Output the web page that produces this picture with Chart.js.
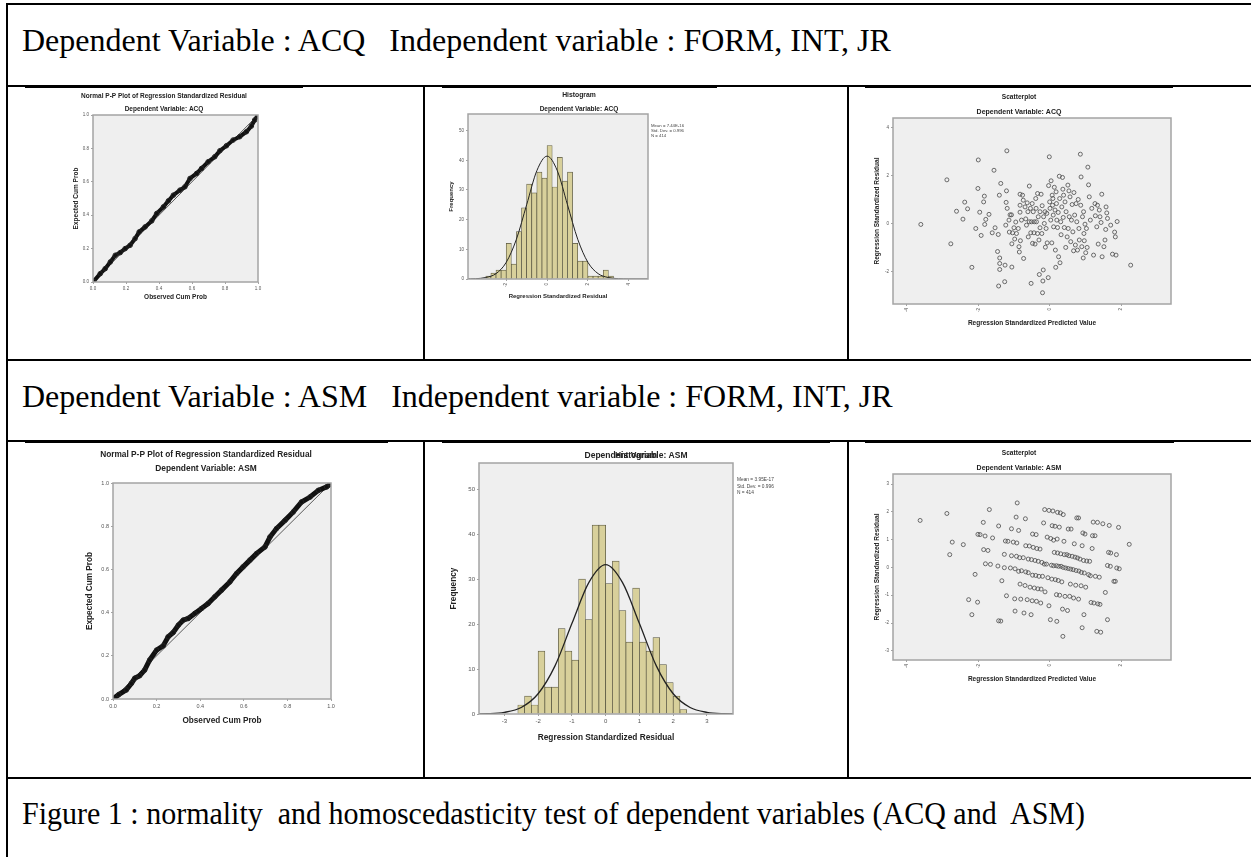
<!DOCTYPE html>
<html>
<head>
<meta charset="utf-8">
<script src="https://cdn.jsdelivr.net/npm/chart.js@4.4.0/dist/chart.umd.min.js"></script>
<style>
  body { margin: 0; background: #fff; width: 1251px; height: 857px; position: relative; overflow: hidden; }
  .rule { position: absolute; background: #000; z-index: 5; }
  .hdr { position: absolute; font-family: "Liberation Serif", "Times New Roman", serif; font-size: 32px; line-height: 32px; white-space: pre; color: #000; }
  canvas { position: absolute; }
</style>
</head>
<body>

<div class="rule" style="left:6px;top:3px;width:2px;height:854px"></div>
<div class="rule" style="left:6px;top:3px;width:1245px;height:2px"></div>
<div class="rule" style="left:6px;top:85px;width:1245px;height:2px"></div>
<div class="rule" style="left:6px;top:359px;width:1245px;height:2px"></div>
<div class="rule" style="left:6px;top:440px;width:1245px;height:2px"></div>
<div class="rule" style="left:6px;top:777px;width:1245px;height:2px"></div>
<div class="rule" style="left:423px;top:85px;width:2px;height:276px"></div>
<div class="rule" style="left:847px;top:85px;width:2px;height:276px"></div>
<div class="rule" style="left:423px;top:440px;width:2px;height:339px"></div>
<div class="rule" style="left:847px;top:440px;width:2px;height:339px"></div>
<!-- top edges of the pasted chart pictures, just under the row rules -->
<div class="rule" style="left:25px;top:86px;width:278px;height:2px"></div>
<div class="rule" style="left:442px;top:86px;width:275px;height:2px"></div>
<div class="rule" style="left:865px;top:86px;width:308px;height:2px"></div>
<div class="rule" style="left:25px;top:441px;width:363px;height:2px"></div>
<div class="rule" style="left:442px;top:441px;width:388px;height:2px"></div>
<div class="rule" style="left:865px;top:441px;width:309px;height:2px"></div>

<div class="hdr" style="left:22px;top:24px">Dependent Variable : ACQ   Independent variable : FORM, INT, JR</div>
<div class="hdr" style="left:22px;top:380px">Dependent Variable : ASM   Independent variable : FORM, INT, JR</div>
<div class="hdr" id="caption" style="left:22px;top:797px;transform-origin:0 0">Figure 1 : normality  and homoscedasticity test of dependent variables (ACQ and  ASM)</div>

<canvas id="ppAcq"></canvas>
<canvas id="histAcq"></canvas>
<canvas id="scatAcq"></canvas>
<canvas id="ppAsm"></canvas>
<canvas id="histAsm"></canvas>
<canvas id="scatAsm"></canvas>

<script>
// ---- data ----

// P-P plots: observed vs expected cumulative probability
const ppAcqObs = [0.004,0.044,0.074,0.105,0.135,0.165,0.195,0.225,0.255,0.28,0.316,0.356,0.386,0.427,0.457,0.487,0.527,0.557,0.588,0.628,0.658,0.698,0.738,0.769,0.809,0.849,0.889,0.93,0.96,0.98,1.0]
const ppAcqExp = [0.004,0.05,0.08,0.12,0.16,0.176,0.2,0.22,0.26,0.30,0.33,0.366,0.41,0.45,0.486,0.52,0.55,0.57,0.62,0.65,0.68,0.72,0.75,0.786,0.816,0.85,0.87,0.90,0.934,0.97,1.0]
const ppAsmObs = [0,0.026,0.061,0.084,0.1,0.122,0.145,0.168,0.2,0.23,0.253,0.276,0.3,0.322,0.345,0.375,0.406,0.436,0.467,0.498,0.536,0.567,0.597,0.628,0.658,0.697,0.72,0.75,0.789,0.827,0.865,0.904,0.942,0.98,1.0]
const ppAsmExp = [0,0.02,0.042,0.072,0.096,0.108,0.134,0.18,0.226,0.246,0.288,0.308,0.342,0.365,0.373,0.396,0.419,0.442,0.473,0.504,0.542,0.581,0.612,0.643,0.673,0.704,0.75,0.789,0.827,0.866,0.912,0.935,0.966,0.982,0.997]
const ppDiagonal = [0, 1]
const ppTicks = [0, 0.2, 0.4, 0.6, 0.8, 1.0]

// histograms
const acqBinCenters = [-2.875,-2.625,-2.375,-2.125,-1.875,-1.625,-1.375,-1.125,-0.875,-0.625,-0.375,-0.125,0.125,0.375,0.625,0.875,1.125,1.375,1.625,1.875,2.125,2.375,2.625,2.875,3.125]
const acqCounts = [1,2,3,3,12,5,16,24,32,29,36,34,45,31,41,33,36,12,6,6,1,1,1,3,1]
const acqCurveX = [-4,-3.5,-3,-2.5,-2,-1.5,-1,-0.5,0,0.5,1,1.5,2,2.5,3,3.5,4,4.5,5]
const acqCurveY = [0.01,0.1,0.5,1.8,5.6,13.4,25,36.5,41.4,36.5,25,13.4,5.6,1.8,0.5,0.1,0.01,0,0]
const acqStats = ['Mean = 7.44E-16', 'Std. Dev. = 0.996', 'N = 414']

const asmBinCenters = [-2.5,-2.3,-2.1,-1.9,-1.7,-1.5,-1.3,-1.1,-0.9,-0.7,-0.5,-0.3,-0.1,0.1,0.3,0.5,0.7,0.9,1.1,1.3,1.5,1.7,1.9,2.1,2.3]
const asmCounts = [2,4,2,14,6,6,19,14,12,30,21,42,42,29,34,23,16,28,16,14,17,11,7,4,1]
const asmCurveX = [-4,-3.5,-3,-2.5,-2,-1.5,-1,-0.5,0,0.5,1,1.5,2,2.5,3,3.5,4]
const asmCurveY = [0.01,0.07,0.37,1.45,4.5,10.7,20.1,29.2,33.2,29.2,20.1,10.7,4.5,1.45,0.37,0.07,0.01]
const asmStats = ['Mean = 3.95E-17', 'Std. Dev. = 0.996', 'N = 414']

// scatterplots: [standardized predicted, standardized residual]
const acqScatter = [
  [-3.61,-0.04],[-2.88,1.82],[-2.77,-0.85],[-2.61,0.51],[-2.43,0.18],[-2.38,0.89],[-2.30,0.61],[-2.18,-1.83],
  [-2.07,-0.21],[-2.01,1.46],[-2.00,2.65],[-1.96,0.47],[-1.92,-0.50],[-1.85,0.90],[-1.83,1.14],[-1.82,-0.04],
  [-1.79,0.17],[-1.70,0.38],[-1.61,-0.39],[-1.56,2.22],[-1.53,-0.18],[-1.46,-1.17],[-1.44,-0.46],[-1.43,-2.61],
  [-1.41,1.18],[-1.40,-1.44],[-1.40,-1.67],[-1.40,-1.92],[-1.37,1.67],[-1.26,-2.43],[-1.25,-1.74],[-1.23,-0.07],
  [-1.22,0.88],[-1.21,1.36],[-1.20,3.03],[-1.19,0.63],[-1.14,0.14],[-1.13,-0.36],[-1.11,0.36],[-1.07,0.36],
  [-1.06,-0.85],[-1.06,-1.82],[-1.04,-0.39],[-1.00,-0.18],[-0.98,-0.65],[-0.95,0.06],[-0.93,-0.42],[-0.88,-0.21],
  [-0.86,-0.97],[-0.85,-1.19],[-0.83,1.22],[-0.83,0.76],[-0.83,0.47],[-0.82,-0.72],[-0.79,0.14],[-0.76,1.18],
  [-0.74,0.97],[-0.73,-1.46],[-0.69,0.69],[-0.67,0.19],[-0.65,-0.07],[-0.63,0.86],[-0.61,0.49],[-0.60,-0.56],
  [-0.57,1.56],[-0.57,0.07],[-0.54,0.63],[-0.53,-0.39],[-0.52,-2.50],[-0.51,0.07],[-0.49,0.83],[-0.48,-0.83],
  [-0.46,0.49],[-0.44,-0.39],[-0.43,0.07],[-0.41,-0.86],[-0.39,1.04],[-0.38,0.63],[-0.37,0.07],[-0.34,1.25],
  [-0.34,-0.42],[-0.32,0.28],[-0.30,-0.69],[-0.29,-2.13],[-0.27,0.49],[-0.27,-0.18],[-0.24,1.22],[-0.22,-0.42],
  [-0.21,0.74],[-0.20,-2.89],[-0.19,-2.40],[-0.18,-1.94],[-0.17,0.28],[-0.15,0.00],[-0.13,0.49],[-0.12,-0.99],
  [-0.10,-0.21],[-0.08,0.42],[-0.07,-0.81],[-0.04,-2.26],[-0.03,1.58],[-0.01,2.78],[0.00,0.90],[0.01,0.63],
  [0.03,0.14],[0.04,1.78],[0.06,-0.81],[0.07,1.18],[0.08,0.76],[0.09,1.04],[0.10,0.35],[0.11,-0.14],
  [0.13,1.51],[0.15,0.56],[0.16,-1.11],[0.17,-1.83],[0.18,1.32],[0.19,0.83],[0.20,0.14],[0.22,-0.17],
  [0.24,0.46],[0.25,-1.39],[0.27,1.97],[0.28,1.04],[0.29,-1.64],[0.31,0.07],[0.32,-0.47],[0.34,0.69],
  [0.36,1.92],[0.37,1.43],[0.38,0.25],[0.39,1.18],[0.41,-0.17],[0.43,0.90],[0.45,-1.00],[0.46,0.49],
  [0.49,-0.56],[0.51,1.60],[0.52,-0.21],[0.54,1.36],[0.55,0.28],[0.57,1.11],[0.59,-0.76],[0.61,0.14],
  [0.63,0.79],[0.65,-0.35],[0.67,-1.14],[0.68,1.29],[0.70,0.35],[0.72,-0.90],[0.74,0.83],[0.76,0.07],
  [0.78,-1.11],[0.80,1.00],[0.82,-0.21],[0.83,-0.69],[0.86,2.89],[0.87,0.76],[0.88,1.94],[0.90,-0.97],
  [0.92,0.28],[0.94,-1.44],[0.95,0.49],[0.96,-0.42],[0.97,-0.72],[0.99,-0.03],[1.01,-1.22],[1.03,-0.21],
  [1.05,-1.00],[1.07,2.35],[1.09,1.61],[1.11,1.11],[1.14,0.14],[1.18,0.63],[1.23,-1.32],[1.27,0.83],
  [1.28,0.32],[1.32,-0.14],[1.34,0.76],[1.36,-0.86],[1.39,0.56],[1.41,0.28],[1.44,0.04],[1.46,1.22],
  [1.47,-1.39],[1.52,-0.97],[1.55,-0.69],[1.57,-0.25],[1.58,0.69],[1.60,0.44],[1.62,0.21],[1.71,-0.07],
  [1.76,-1.28],[1.82,-0.36],[1.84,-0.56],[1.86,-1.32],[1.89,0.08],[2.27,-1.74]
]
const asmScatter = [
  [-3.63,1.69],[-2.88,1.94],[-2.80,0.46],[-2.73,0.91],[-2.42,0.82],[-2.27,-1.16],[-2.18,-1.70],[-2.09,-0.25],
  [-2.02,-1.25],[-2.01,1.19],[-1.95,1.18],[-1.86,1.62],[-1.85,0.64],[-1.81,1.13],[-1.80,0.13],[-1.73,0.61],
  [-1.69,2.08],[-1.66,0.11],[-1.60,1.06],[-1.45,0.05],[-1.43,1.49],[-1.43,-1.92],[-1.37,-1.93],[-1.34,-0.48],
  [-1.27,0.47],[-1.27,-0.01],[-1.24,0.95],[-1.21,-1.02],[-1.17,0.94],[-1.10,-0.02],[-1.07,1.39],[-1.07,0.42],
  [-1.02,0.91],[-0.98,-1.13],[-0.97,-1.57],[-0.97,-0.05],[-0.94,1.81],[-0.93,0.40],[-0.92,0.88],[-0.91,2.32],
  [-0.87,1.33],[-0.87,-0.14],[-0.84,0.35],[-0.83,-0.60],[-0.81,-1.14],[-0.79,-0.12],[-0.74,0.35],[-0.72,-1.64],
  [-0.69,-0.65],[-0.68,1.75],[-0.67,0.78],[-0.67,-0.16],[-0.63,-1.16],[-0.60,0.30],[-0.60,-0.19],[-0.57,0.77],
  [-0.55,-0.71],[-0.52,-1.70],[-0.51,0.28],[-0.49,-1.20],[-0.48,-0.28],[-0.48,1.20],[-0.46,0.72],[-0.43,-0.74],
  [-0.41,0.25],[-0.39,-0.29],[-0.38,1.18],[-0.37,-1.22],[-0.36,0.68],[-0.33,-0.77],[-0.32,0.22],[-0.30,-0.32],
  [-0.27,0.66],[-0.25,-1.28],[-0.24,-0.78],[-0.22,0.18],[-0.20,-0.32],[-0.17,1.60],[-0.15,0.12],[-0.14,2.08],
  [-0.13,-0.88],[-0.09,0.12],[-0.07,1.09],[-0.05,-0.37],[-0.02,-1.38],[-0.02,2.05],[0.02,-1.88],[0.03,1.04],
  [0.05,0.08],[0.06,-0.42],[0.07,1.50],[0.09,2.03],[0.11,0.98],[0.11,0.06],[0.13,0.54],[0.15,1.48],
  [0.16,-0.44],[0.19,0.06],[0.19,-0.98],[0.20,-1.94],[0.21,1.02],[0.22,1.98],[0.22,0.52],[0.24,-0.47],
  [0.25,0.04],[0.27,1.45],[0.28,-1.00],[0.30,1.96],[0.31,0.49],[0.32,0.04],[0.34,-0.52],[0.36,-1.50],
  [0.37,-2.48],[0.38,1.90],[0.38,0.00],[0.40,0.94],[0.41,0.46],[0.43,-1.04],[0.45,-0.02],[0.48,0.46],
  [0.50,-1.55],[0.52,-0.04],[0.52,1.38],[0.54,0.42],[0.56,-1.04],[0.58,-0.60],[0.59,-0.06],[0.60,1.38],
  [0.63,0.40],[0.66,-0.08],[0.67,-1.10],[0.69,0.85],[0.71,0.37],[0.73,-0.64],[0.74,-0.11],[0.76,1.78],
  [0.78,0.34],[0.81,1.78],[0.81,-1.14],[0.82,-0.13],[0.85,0.30],[0.88,-0.66],[0.89,-0.18],[0.91,0.78],
  [0.91,-2.17],[0.93,1.24],[0.95,0.25],[0.96,-1.70],[0.97,-0.20],[0.99,1.20],[1.01,-0.71],[1.04,0.23],
  [1.09,-0.26],[1.12,0.22],[1.14,-0.30],[1.16,-1.26],[1.19,0.68],[1.20,1.14],[1.22,1.63],[1.24,-1.28],
  [1.27,1.14],[1.28,-0.32],[1.32,-2.30],[1.34,1.62],[1.35,-1.31],[1.39,-0.35],[1.41,-1.33],[1.43,-2.33],
  [1.49,1.57],[1.56,-0.90],[1.62,0.07],[1.62,-1.88],[1.65,0.54],[1.67,1.51],[1.70,0.04],[1.71,0.52],
  [1.80,-0.50],[1.84,-0.50],[1.87,0.46],[1.88,-0.02],[1.93,1.44],[1.95,-0.05],[2.23,0.83]
]
const scatXTicks = [-4, -2, 0, 2]
const acqResidTicks = [-2, 0, 2, 4]
const asmResidTicks = [-3, -2, -1, 0, 1, 2, 3]
const acqHistXTicks = [-2, 0, 2, 4]
const asmHistXTicks = [-3, -2, -1, 0, 1, 2, 3]
const freqTicks = [0, 10, 20, 30, 40, 50]


const SANS = '"Liberation Sans", Arial, sans-serif'
Chart.defaults.font.family = SANS

// caption is set a little narrower than the headings
const cap = document.getElementById('caption')
cap.style.transform = 'scaleX(' + (1063 / cap.getBoundingClientRect().width) + ')'


// grey plot panel, frame and the free text (titles, stats)
const spssFrame = {
  id: 'spssFrame',
  beforeDatasetsDraw(chart) {
    const a = chart.chartArea, ctx = chart.ctx
    ctx.save()
    ctx.fillStyle = '#efefef'
    ctx.fillRect(a.left, a.top, a.right - a.left, a.bottom - a.top)
    ctx.restore()
  },
  afterDraw(chart, args, opts) {
    const a = chart.chartArea, ctx = chart.ctx
    ctx.save()
    ctx.strokeStyle = '#a4a4a4'
    ctx.lineWidth = 1.5
    ctx.strokeRect(a.left, a.top, a.right - a.left, a.bottom - a.top)
    ;(opts.texts || []).forEach(t => {
      ctx.font = (t.bold ? 'bold ' : '') + t.size + 'px ' + SANS
      ctx.fillStyle = t.color || '#222'
      ctx.textAlign = t.align || 'center'
      ctx.textBaseline = 'middle'
      ctx.fillText(t.text, t.x - opts.ox, t.y - opts.oy)
    })
    ctx.restore()
  }
}


function axis(min, max, ticks, label, tickSize, titleSize, decimals, rotate) {
  return {
    type: 'linear',
    min: min,
    max: max,
    offset: false,
    afterBuildTicks: s => { s.ticks = ticks.map(v => ({ value: v })) },
    grid: { display: true, drawOnChartArea: false, drawTicks: true, tickLength: 2, color: '#8c8c8c', lineWidth: 0.8, offset: false },
    border: { display: false },
    ticks: {
      font: { size: tickSize },
      color: '#555',
      padding: 2,
      autoSkip: false,
      minRotation: rotate ? 90 : 0,
      maxRotation: rotate ? 90 : 0,
      callback: v => decimals ? v.toFixed(decimals) : String(v)
    },
    title: { display: true, text: label, color: '#222', font: { size: titleSize, weight: 'bold' }, padding: { top: 1, bottom: 1 } }
  }
}


// cell = canvas box on the page, area = plot panel on the page
function drawPanel(id, cell, area, yW, xH, type, datasets, xAxis, yAxis, texts) {
  const cv = document.getElementById(id)
  cv.width = cell.w
  cv.height = cell.h
  cv.style.left = cell.x + 'px'
  cv.style.top = cell.y + 'px'

  xAxis.afterFit = s => { s.height = xH }
  yAxis.afterFit = s => { s.width = yW }

  return new Chart(cv, {
    type: type,
    data: { datasets: datasets },
    options: {
      responsive: false,
      animation: false,
      devicePixelRatio: 1,
      layout: {
        padding: {
          left: area.l - yW - cell.x,
          top: area.t - cell.y,
          right: cell.x + cell.w - area.r,
          bottom: cell.y + cell.h - area.b - xH
        }
      },
      plugins: {
        legend: { display: false },
        tooltip: { enabled: false },
        spssFrame: { texts: texts, ox: cell.x, oy: cell.y }
      },
      scales: { x: xAxis, y: yAxis }
    },
    plugins: [spssFrame]
  })
}


function ppSets(obs, exp, band) {
  return [
    {
      data: obs.map((v, i) => ({ x: v, y: exp[i] })),
      showLine: true,
      borderColor: '#111',
      borderWidth: band,
      pointRadius: 2.3,
      pointBorderWidth: 1,
      pointBorderColor: '#222',
      pointBackgroundColor: 'rgba(0,0,0,0)',
      order: 0
    },
    {
      data: ppDiagonal.map(v => ({ x: v, y: v })),
      showLine: true,
      borderColor: '#333',
      borderWidth: 0.8,
      pointRadius: 0,
      order: 1
    }
  ]
}

function histSets(centers, counts, cx, cy, curveW) {
  return [
    {
      type: 'line',
      data: cx.map((v, i) => ({ x: v, y: cy[i] })),
      borderColor: '#222',
      borderWidth: curveW,
      pointRadius: 0,
      cubicInterpolationMode: 'monotone',
      order: 0
    },
    {
      type: 'bar',
      data: centers.map((v, i) => ({ x: v, y: counts[i] })),
      backgroundColor: '#d8d09b',
      borderColor: '#55533f',
      borderWidth: 0.7,
      barPercentage: 1,
      categoryPercentage: 1,
      order: 1
    }
  ]
}

function scatSets(points) {
  return [{
    data: points.map(p => ({ x: p[0], y: p[1] })),
    pointRadius: 2,
    pointBorderWidth: 0.8,
    pointBorderColor: '#4a4a4a',
    pointBackgroundColor: 'rgba(0,0,0,0)'
  }]
}

function statLines(lines, x, y, gap, size) {
  return lines.map((t, i) => ({ text: t, x: x, y: y + i * gap, size: size, align: 'left', color: '#444' }))
}


// ---- row 1 : ACQ ----
drawPanel('ppAcq',
  { x: 8, y: 88, w: 415, h: 271 }, { l: 93, t: 115, r: 258, b: 282 }, 22, 20,
  'scatter', ppSets(ppAcqObs, ppAcqExp, 4),
  axis(0, 1, ppTicks, 'Observed Cum Prob', 4.5, 6.5, 1, false),
  axis(0, 1, ppTicks, 'Expected Cum Prob', 4.5, 6.5, 1, false),
  [
    { text: 'Normal P-P Plot of Regression Standardized Residual', x: 164, y: 96, size: 6.5, bold: true },
    { text: 'Dependent Variable: ACQ', x: 164, y: 109, size: 6.5, bold: true }
  ])

drawPanel('histAcq',
  { x: 425, y: 88, w: 422, h: 271 }, { l: 468, t: 114, r: 648, b: 279 }, 21, 22,
  'bar', histSets(acqBinCenters, acqCounts, acqCurveX, acqCurveY, 1),
  axis(-3.87, 4.94, acqHistXTicks, 'Regression Standardized Residual', 4.5, 6, 0, true),
  axis(0, 55.6, freqTicks, 'Frequency', 4.5, 6, 0, false),
  [
    { text: 'Histogram', x: 579, y: 95, size: 6.8, bold: true },
    { text: 'Dependent Variable: ACQ', x: 579, y: 109, size: 6.5, bold: true }
  ].concat(statLines(acqStats, 651, 126, 5, 4.3)))

drawPanel('scatAcq',
  { x: 849, y: 88, w: 402, h: 271 }, { l: 893, t: 118, r: 1171, b: 304 }, 21, 24,
  'scatter', scatSets(acqScatter),
  axis(-4.39, 3.40, scatXTicks, 'Regression Standardized Predicted Value', 4.5, 6.5, 0, true),
  axis(-3.36, 4.40, acqResidTicks, 'Regression Standardized Residual', 4.5, 6.5, 0, false),
  [
    { text: 'Scatterplot', x: 1019, y: 97, size: 6.6, bold: true },
    { text: 'Dependent Variable: ACQ', x: 1019, y: 112, size: 7, bold: true }
  ])


// ---- row 2 : ASM ----
drawPanel('ppAsm',
  { x: 8, y: 443, w: 415, h: 334 }, { l: 113, t: 483, r: 331, b: 699 }, 29, 28,
  'scatter', ppSets(ppAsmObs, ppAsmExp, 5),
  axis(0, 1, ppTicks, 'Observed Cum Prob', 5.5, 8.2, 1, false),
  axis(0, 1, ppTicks, 'Expected Cum Prob', 5.5, 8.2, 1, false),
  [
    { text: 'Normal P-P Plot of Regression Standardized Residual', x: 206, y: 455, size: 8.3, bold: true },
    { text: 'Dependent Variable: ASM', x: 206, y: 469, size: 8.4, bold: true }
  ])

// the SPSS export printed "Histogram" on top of the subtitle here
drawPanel('histAsm',
  { x: 425, y: 443, w: 422, h: 334 }, { l: 479, t: 463, r: 733, b: 714 }, 31, 30,
  'bar', histSets(asmBinCenters, asmCounts, asmCurveX, asmCurveY, 1.3),
  axis(-3.75, 3.77, asmHistXTicks, 'Regression Standardized Residual', 6, 8.3, 0, false),
  axis(0, 55.8, freqTicks, 'Frequency', 6, 8.3, 0, false),
  [
    { text: 'Dependent Variable: ASM', x: 636, y: 456, size: 8.5, bold: true },
    { text: 'Histogram', x: 636, y: 456, size: 8.5, bold: true }
  ].concat(statLines(asmStats, 737, 480, 6.5, 4.8)))

drawPanel('scatAsm',
  { x: 849, y: 443, w: 402, h: 334 }, { l: 893, t: 474, r: 1171, b: 660 }, 21, 24,
  'scatter', scatSets(asmScatter),
  axis(-4.39, 3.40, scatXTicks, 'Regression Standardized Predicted Value', 4.5, 6.5, 0, true),
  axis(-3.33, 3.36, asmResidTicks, 'Regression Standardized Residual', 4.5, 6.5, 0, false),
  [
    { text: 'Scatterplot', x: 1019, y: 453, size: 6.6, bold: true },
    { text: 'Dependent Variable: ASM', x: 1019, y: 468, size: 7, bold: true }
  ])
</script>
</body>
</html>
